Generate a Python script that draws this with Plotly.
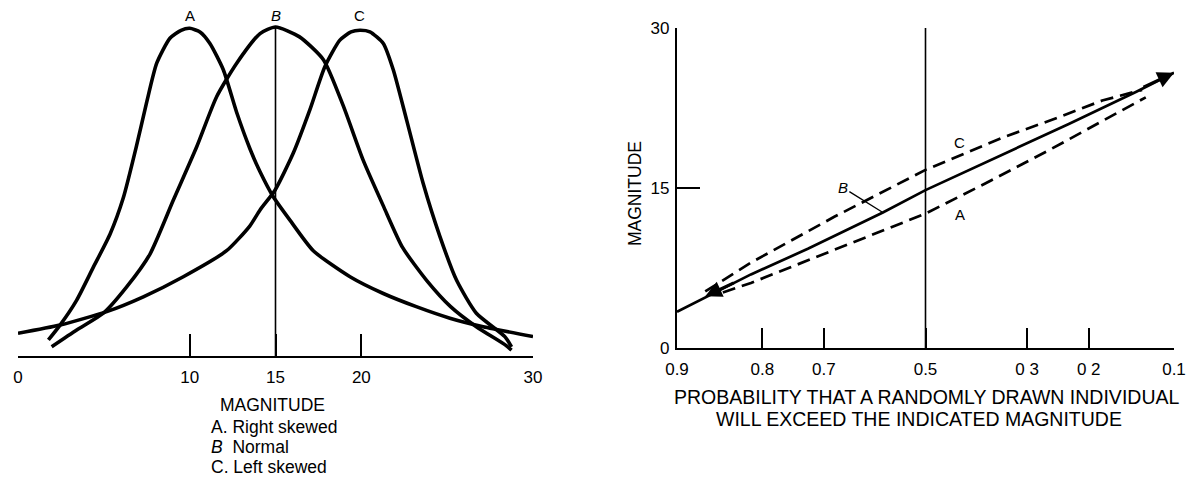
import plotly.graph_objects as go
from statistics import NormalDist

# ---------------- Left panel: frequency curves (magnitude vs relative frequency)
A_x = [1.77, 2.45, 3.42, 4.39, 5.36, 6.13, 6.91, 7.49, 8.08, 8.85, 9.5, 10.0, 10.6, 11.18, 11.96, 12.74, 13.51, 14.1, 14.87, 15.84, 17.2, 19.34, 21.28, 23.2, 25.16, 27.1, 30.0]
A_h = [0.049, 0.094, 0.17, 0.27, 0.37, 0.48, 0.64, 0.77, 0.89, 0.966, 0.99, 0.996, 0.985, 0.95, 0.87, 0.74, 0.63, 0.56, 0.484, 0.413, 0.32, 0.241, 0.19, 0.15, 0.115, 0.089, 0.059]

B_x = [1.96, 3.42, 4.97, 6.33, 7.69, 9.05, 10.41, 11.57, 12.74, 14.1, 15.0, 16.4, 17.8, 18.95, 20.1, 21.3, 22.4, 23.8, 25.2, 26.7, 28.4, 28.75]
B_h = [0.028, 0.079, 0.13, 0.21, 0.31, 0.474, 0.636, 0.788, 0.89, 0.98, 1.0, 0.97, 0.90, 0.76, 0.596, 0.454, 0.33, 0.23, 0.15, 0.089, 0.033, 0.018]

C_x = [0.0, 2.45, 5.17, 7.3, 9.63, 12.15, 13.5, 14.1, 14.97, 16.03, 17.0, 17.88, 18.75, 19.4, 19.92, 20.5, 21.28, 21.86, 22.64, 23.6, 24.58, 25.55, 26.7, 28.36, 28.75]
C_h = [0.069, 0.094, 0.135, 0.18, 0.241, 0.32, 0.395, 0.444, 0.504, 0.616, 0.748, 0.88, 0.96, 0.985, 0.99, 0.985, 0.95, 0.87, 0.717, 0.525, 0.363, 0.23, 0.13, 0.059, 0.028]

left_ticks = [0, 10, 15, 20, 30]
left_ticktext = ["0", "10", "15", "20", "30"]

# ---------------- Right panel: probability plot (exceedance probability vs magnitude)
B_p = [0.90, 0.816, 0.728, 0.587, 0.50, 0.347, 0.23, 0.139, 0.10]
B_m = [3.4, 6.9, 9.3, 12.7, 14.8, 18.1, 21.0, 24.0, 25.8]

C_p = [0.872, 0.816, 0.681, 0.50, 0.347, 0.257, 0.181, 0.132]
C_m = [5.3, 8.0, 12.3, 16.7, 19.7, 21.4, 23.2, 24.2]

A_p = [0.852, 0.816, 0.681, 0.50, 0.38, 0.257, 0.128]
A_m = [5.2, 6.1, 9.2, 12.6, 15.4, 18.7, 23.5]

prob_ticks = [0.9, 0.8, 0.7, 0.5, 0.3, 0.2, 0.1]
prob_ticktext = ["0.9", "0.8", "0.7", "0.5", "0 3", "0 2", "0.1"]
mag_ticks = [0, 15, 30]

# the page body has an 8px margin; the figure is sized to fit the window
OFF = 8
W, H = 1196 - OFF, 481 - OFF
FONT = "Liberation Sans, Arial, Helvetica, sans-serif"
nd = NormalDist()


def z(p):
    return nd.inv_cdf(1 - p)


def px(x):
    return (x - OFF) / W


def py(y):
    return 1 - (y - OFF) / H


fig = go.Figure()

curve = dict(color="black", width=3.6, shape="spline", smoothing=0.6)
for xs, hs in [(A_x, A_h), (B_x, B_h), (C_x, C_h)]:
    fig.add_trace(go.Scatter(x=xs, y=hs, mode="lines", line=curve,
                             xaxis="x", yaxis="y", hoverinfo="skip"))

# vertical line at mean of B
b_peak = max(B_h)
b_peak_x = B_x[B_h.index(b_peak)]
fig.add_trace(go.Scatter(x=[b_peak_x, b_peak_x], y=[0, b_peak], mode="lines",
                         line=dict(color="black", width=1.6),
                         xaxis="x", yaxis="y", hoverinfo="skip"))

# right panel lines
fig.add_trace(go.Scatter(x=[z(p) for p in B_p], y=B_m, mode="lines",
                         line=dict(color="black", width=2.7),
                         xaxis="x2", yaxis="y2", hoverinfo="skip"))
for ps, ms in [(C_p, C_m), (A_p, A_m)]:
    fig.add_trace(go.Scatter(x=[z(p) for p in ps], y=ms, mode="lines",
                             line=dict(color="black", width=2.7, dash="13px,7px"),
                             xaxis="x2", yaxis="y2", hoverinfo="skip"))

fig.add_trace(go.Scatter(x=[z(0.5), z(0.5)], y=[0, 30], mode="lines",
                         line=dict(color="black", width=1.6),
                         xaxis="x2", yaxis="y2", hoverinfo="skip"))


def txt(x, y, text, size, xref="paper", yref="paper", xanchor="center", **kw):
    d = dict(x=x, y=y, xref=xref, yref=yref, text=text, xanchor=xanchor, yanchor="middle",
             showarrow=False, font=dict(family=FONT, size=size, color="black"))
    d.update(kw)
    return d


annotations = []
# peak labels
for lab, xs, hs in [("A", A_x, A_h), ("<i>B</i>", B_x, B_h), ("C", C_x, C_h)]:
    pk = xs[hs.index(max(hs))]
    annotations.append(txt(pk, py(16), lab, 15, xref="x"))

annotations.append(txt(px(272), py(405), "MAGNITUDE", 17.5))
for t, yy in [("A. Right skewed", 427), ("<i>B</i>  Normal", 447), ("C. Left skewed", 467)]:
    annotations.append(txt(px(209), py(yy), t, 17.5, xanchor="left"))

# right panel labels
annotations.append(txt(z(0.43), 19.3, "C", 15, xref="x2", yref="y2"))
annotations.append(txt(z(0.43), 12.5, "A", 15, xref="x2", yref="y2"))
annotations.append(dict(x=z(B_p[3]), y=B_m[3], xref="x2", yref="y2", text="<i>B</i>",
                        showarrow=True, arrowhead=0, arrowwidth=1.3, arrowcolor="black",
                        ax=-40, ay=-25, font=dict(family=FONT, size=15, color="black")))
# arrow heads at both ends of the probability lines
annotations.append(dict(x=z(B_p[-1]), y=B_m[-1], xref="x2", yref="y2", text="",
                        showarrow=True, arrowhead=2, arrowsize=1.1, arrowwidth=3,
                        arrowcolor="black", ax=-32, ay=15))
annotations.append(dict(x=z(C_p[0]), y=(C_m[0] + A_m[0]) / 2 - 0.4, xref="x2", yref="y2", text="",
                        showarrow=True, arrowhead=2, arrowsize=1.1, arrowwidth=3,
                        arrowcolor="black", ax=30, ay=-14))

# right titles
annotations.append(txt(px(926), py(397), "PROBABILITY THAT A RANDOMLY DRAWN INDIVIDUAL", 19.5))
annotations.append(txt(px(919), py(419), "WILL EXCEED THE INDICATED MAGNITUDE", 19.5))
annotations.append(txt(px(635), py(194), "MAGNITUDE", 17.5, textangle=-90))

fig.update_layout(
    template="none",
    width=W, height=H,
    margin=dict(l=0, r=0, t=0, b=0, pad=0, autoexpand=False),
    paper_bgcolor="white", plot_bgcolor="white",
    showlegend=False,
    annotations=annotations,
    xaxis=dict(domain=[px(18), px(533)], range=[0, 30], showgrid=False, zeroline=False,
               automargin=False,
               showline=True, linecolor="black", linewidth=2.2,
               ticks="inside", ticklen=22, tickwidth=2, tickcolor="black",
               tickvals=left_ticks, ticktext=left_ticktext, ticklabelstandoff=4,
               tickfont=dict(family=FONT, size=17, color="black")),
    yaxis=dict(domain=[py(356), py(356 - 329 * 1.05)], range=[0, 1.05], visible=False,
               automargin=False),
    xaxis2=dict(domain=[px(677), px(1174)], range=[z(0.9), z(0.1)], anchor="y2",
                automargin=False,
                showgrid=False, zeroline=False, showline=True, linecolor="black", linewidth=2.2,
                ticks="inside", ticklen=20, tickwidth=2, tickcolor="black",
                tickvals=[z(p) for p in prob_ticks], ticktext=prob_ticktext,
                ticklabelstandoff=4,
                tickfont=dict(family=FONT, size=17, color="black")),
    yaxis2=dict(domain=[py(348), py(28)], range=[0, 30], anchor="x2",
                automargin=False,
                showgrid=False, zeroline=False, showline=True, linecolor="black", linewidth=2.2,
                ticks="inside", ticklen=23, tickwidth=2, tickcolor="black",
                tickvals=mag_ticks, ticktext=[str(v) for v in mag_ticks],
                ticklabelstandoff=2,
                tickfont=dict(family=FONT, size=17, color="black")),
)

fig.write_html("out.html")
